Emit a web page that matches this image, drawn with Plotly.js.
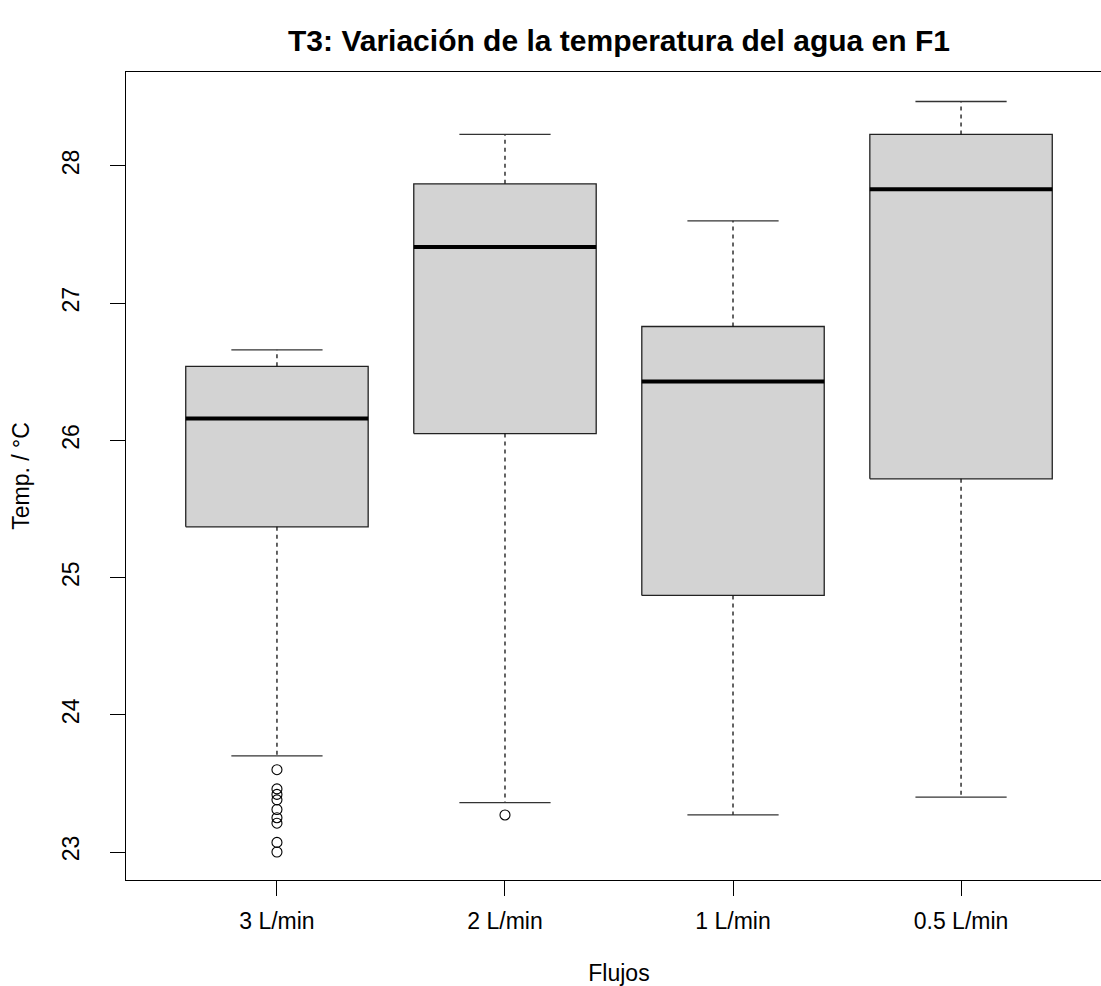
<!DOCTYPE html>
<html>
<head>
<meta charset="utf-8">
<script src="https://cdn.plot.ly/plotly-3.0.1.min.js"></script>
<style>
  html, body { margin: 0; padding: 0; background: #ffffff; overflow: hidden; }
  #chart { width: 1112px; height: 986px; }
</style>
</head>
<body>
<div id="chart"></div>
<script>
// Water temperature (°C) at F1 for each flow rate: five-number summaries and outliers
const flujos = ['3 L/min', '2 L/min', '1 L/min', '0.5 L/min'];
const whiskerLow = [23.70, 23.36, 23.27, 23.40];
const q1 = [25.37, 26.05, 24.87, 25.72];
const median = [26.16, 27.41, 26.43, 27.83];
const q3 = [26.54, 27.87, 26.83, 28.23];
const whiskerHigh = [26.66, 28.23, 27.60, 28.47];
// points beyond the whiskers, per group
const outliers = [
  [23.60, 23.46, 23.42, 23.38, 23.31, 23.25, 23.21, 23.07, 23.00],
  [23.27],
  [],
  []
];
const yTicks = [23, 24, 25, 26, 27, 28];

const BOX_HALF = 0.4;    // boxwex 0.8
const CAP_HALF = 0.2;    // staple half of the box
const FONT = 'Liberation Sans, Arial, sans-serif';
const traces = [];

flujos.forEach((name, i) => {
  const x = i + 1;
  // box body
  traces.push({
    type: 'scatter', mode: 'lines', name: name, showlegend: false,
    x: [x - BOX_HALF, x + BOX_HALF, x + BOX_HALF, x - BOX_HALF, x - BOX_HALF],
    y: [q1[i], q1[i], q3[i], q3[i], q1[i]],
    fill: 'toself', fillcolor: '#d3d3d3',
    line: { color: '#222222', width: 1.3 },
    hoverinfo: 'skip'
  });
  // dashed whiskers
  traces.push({
    type: 'scatter', mode: 'lines', showlegend: false,
    x: [x, x, null, x, x],
    y: [q3[i], whiskerHigh[i], null, q1[i], whiskerLow[i]],
    line: { color: '#111111', width: 1.3, dash: '4px,4px' },
    hoverinfo: 'skip'
  });
  // staples
  traces.push({
    type: 'scatter', mode: 'lines', showlegend: false,
    x: [x - CAP_HALF, x + CAP_HALF, null, x - CAP_HALF, x + CAP_HALF],
    y: [whiskerHigh[i], whiskerHigh[i], null, whiskerLow[i], whiskerLow[i]],
    line: { color: '#333333', width: 1.3 },
    hoverinfo: 'skip'
  });
  // median
  traces.push({
    type: 'scatter', mode: 'lines', showlegend: false,
    x: [x - BOX_HALF, x + BOX_HALF],
    y: [median[i], median[i]],
    line: { color: '#000000', width: 4 },
    hovertemplate: name + '<br>mediana: %{y:.2f} °C<extra></extra>'
  });
  // outliers
  if (outliers[i].length) {
    traces.push({
      type: 'scatter', mode: 'markers', showlegend: false,
      x: outliers[i].map(() => x),
      y: outliers[i],
      marker: { symbol: 'circle-open', size: 10, color: '#000000', line: { width: 1.1 } },
      hovertemplate: name + '<br>%{y:.2f} °C<extra></extra>'
    });
  }
});

const layout = {
  width: 1112, height: 986,
  margin: { l: 126, r: 0, t: 72, b: 106 },
  paper_bgcolor: '#ffffff', plot_bgcolor: '#ffffff',
  showlegend: false,
  font: { family: FONT, color: '#000000', size: 23 },
  title: {
    text: '<b>T3: Variación de la temperatura del agua en F1</b>',
    font: { family: FONT, size: 30, color: '#000000' },
    x: 0.5, xref: 'paper', xanchor: 'center',
    y: 1 - 40 / 986, yref: 'container', yanchor: 'middle'
  },
  xaxis: {
    range: [0.338, 4.662],
    tickvals: flujos.map((_, i) => i + 1),
    ticktext: flujos,
    ticks: 'outside', ticklen: 15, tickwidth: 1.2, tickcolor: '#000000',
    ticklabelstandoff: 5,
    showline: true, mirror: true, linecolor: '#000000', linewidth: 1.3,
    showgrid: false, zeroline: false, fixedrange: true,
    tickfont: { family: FONT, size: 23 },
    title: { text: 'Flujos', font: { family: FONT, size: 23 }, standoff: 35 }
  },
  yaxis: {
    range: [22.796, 28.685],
    tickvals: yTicks,
    ticktext: yTicks.map(String),
    tickangle: -90,
    ticks: 'outside', ticklen: 15, tickwidth: 1.2, tickcolor: '#000000',
    ticklabelstandoff: 22,
    showline: true, mirror: true, linecolor: '#000000', linewidth: 1.3,
    showgrid: false, zeroline: false, fixedrange: true,
    tickfont: { family: FONT, size: 23 },
    title: { text: 'Temp. / °C', font: { family: FONT, size: 23 }, standoff: 21 }
  }
};

Plotly.newPlot('chart', traces, layout, { displayModeBar: false });
</script>
</body>
</html>
